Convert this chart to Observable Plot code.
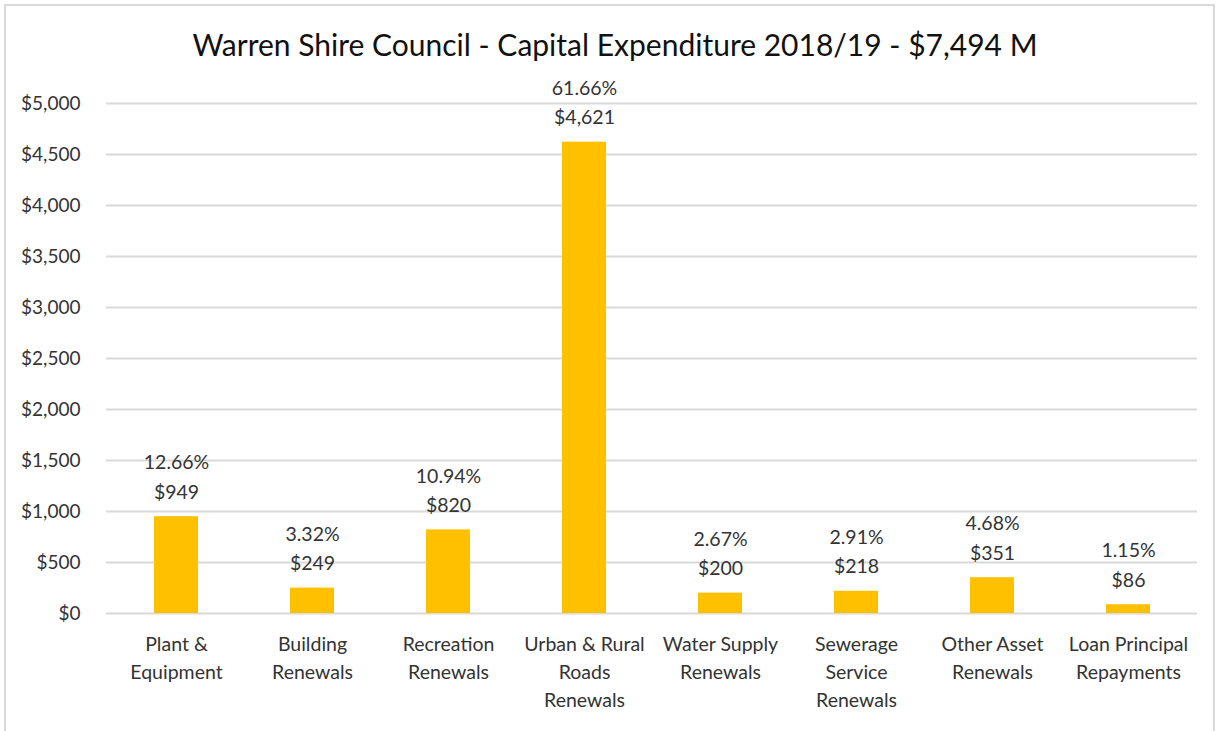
<!DOCTYPE html>
<html>
<head>
<meta charset="utf-8">
<script src="https://cdn.jsdelivr.net/npm/d3@7"></script>
<script src="https://cdn.jsdelivr.net/npm/@observablehq/plot@0.6"></script>
<style>
  body { margin: 0; background: #fff; font-family: Lato, "Open Sans", sans-serif; }
  #frame { position: absolute; left: 4px; top: 4px; width: 1211px; height: 740px; border: 2px solid #d9d9d9; box-sizing: border-box; }
  #title { position: absolute; left: 0; top: 26px; width: 1230px; text-align: center; font-size: 30px; color: #111; }
  #chart { position: absolute; left: 0; top: 0; }
</style>
</head>
<body>
<div id="frame"></div>
<div id="title">Warren Shire Council - Capital Expenditure 2018/19 - $7,494 M</div>
<div id="chart"></div>
<script>
const categories = [
  "Plant &\nEquipment",
  "Building\nRenewals",
  "Recreation\nRenewals",
  "Urban & Rural\nRoads\nRenewals",
  "Water Supply\nRenewals",
  "Sewerage\nService\nRenewals",
  "Other Asset\nRenewals",
  "Loan Principal\nRepayments"
];
const values = [949, 249, 820, 4621, 200, 218, 351, 86];
const percents = ["12.66%", "3.32%", "10.94%", "61.66%", "2.67%", "2.91%", "4.68%", "1.15%"];
const yTicks = [0, 500, 1000, 1500, 2000, 2500, 3000, 3500, 4000, 4500, 5000];

const data = categories.map((c, i) => ({cat: c, value: values[i], label: percents[i] + "\n" + d3.format("$,")(values[i])}));

const chart = Plot.plot({
  width: 1221,
  height: 731,
  marginTop: 103,
  marginBottom: 118,
  marginLeft: 106,
  marginRight: 24,
  style: {fontFamily: "Lato, 'Open Sans', sans-serif", fontSize: "19px", color: "#333", background: "transparent"},
  x: {domain: categories, paddingInner: 0.68, paddingOuter: 0.34, label: null},
  y: {domain: [0, 5000], label: null},
  marks: [
    Plot.gridY(yTicks, {stroke: "#d9d9d9", strokeOpacity: 1, strokeWidth: 2}),
    Plot.axisY(yTicks, {tickSize: 0, tickPadding: 26, tickFormat: d => d3.format("$,")(d), fontSize: 19, fill: "#333", label: null}),
    Plot.axisX({tickSize: 0, tickPadding: 17, lineHeight: 1.45, fontSize: 19.5, fill: "#333", label: null}),
    Plot.barY(data, {x: "cat", y: "value", fill: "#ffc000"}),
    Plot.text(data, {x: "cat", y: "value", text: "label", lineAnchor: "bottom", lineHeight: 1.5, dy: -18, fontSize: 19.5, fill: "#333"})
  ]
});
document.getElementById("chart").appendChild(chart);
</script>
</body>
</html>
